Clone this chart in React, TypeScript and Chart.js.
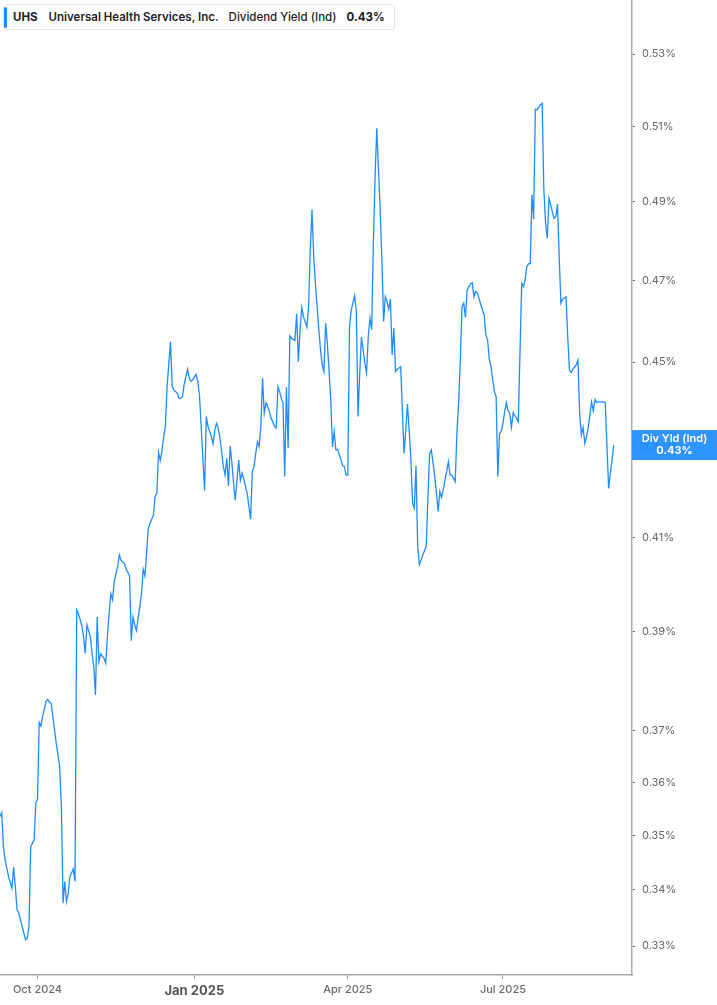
import { useEffect, useRef } from 'react'
import { Chart, registerables } from 'chart.js'

Chart.register(...registerables)

// calendar days counted from the first session shown (Mon 9 Sep 2024)
const START_DATE = '2024-09-09'

const tradeDays = [
  0, 1, 2, 3, 5, 7, 8, 9, 10, 11, 13, 15, 16, 17, 18, 19, 20, 21, 22, 23,
  24, 25, 27, 28, 29, 30, 31, 33, 35, 36, 37, 38, 39, 40, 41, 43, 44, 45, 46, 48,
  49, 50, 51, 53, 54, 55, 56, 57, 58, 59, 61, 62, 63, 64, 65, 66, 67, 69, 70, 71,
  73, 74, 76, 77, 78, 79, 80, 82, 83, 84, 85, 87, 88, 90, 91, 92, 93, 94, 95, 96,
  97, 98, 100, 101, 102, 104, 105, 106, 107, 108, 109, 110, 111, 112, 113, 115, 116, 117, 120, 121,
  122, 124, 125, 126, 127, 128, 129, 130, 131, 132, 133, 134, 135, 136, 137, 138, 139, 140, 141, 142,
  143, 144, 145, 146, 147, 148, 149, 150, 151, 152, 153, 154, 155, 156, 157, 158, 159, 160, 161, 162,
  163, 164, 165, 166, 167, 168, 169, 170, 171, 173, 174, 175, 176, 177, 178, 180, 181, 182, 183, 184,
  185, 186, 187, 188, 189, 190, 191, 192, 193, 194, 195, 196, 197, 198, 199, 200, 201, 202, 203, 204,
  205, 206, 208, 209, 210, 211, 212, 213, 214, 215, 216, 217, 218, 219, 220, 221, 222, 223, 224, 225,
  226, 227, 228, 229, 230, 231, 232, 233, 235, 236, 237, 238, 239, 240, 241, 242, 243, 244, 245, 246,
  247, 248, 250, 251, 252, 253, 254, 255, 256, 257, 258, 259, 260, 261, 262, 263, 264, 265, 266, 267,
  268, 269, 270, 271, 272, 273, 274, 275, 276, 277, 278, 279, 280, 281, 282, 284, 285, 286, 287, 288,
  289, 290, 291, 292, 293, 294, 295, 296, 297, 298, 299, 300, 301, 302, 303, 304, 306, 307, 308, 309,
  310, 311, 312, 313, 314, 315, 316, 317, 318, 319, 320, 321, 322, 323, 324, 325, 326, 327, 328, 329,
  330, 332, 333, 334, 335, 336, 338, 339, 340, 341, 342, 343, 344, 345, 347, 348, 349, 350, 351, 353,
  355, 357, 358, 359, 360,
]

// dividend yield (indicated), in percent
const divYield = [
  0.3535, 0.3542, 0.3479, 0.3455, 0.3424, 0.3403, 0.3441, 0.3406, 0.3364, 0.3359,
  0.3334, 0.3311, 0.3314, 0.3334, 0.3479, 0.3485, 0.3491, 0.3560, 0.3568, 0.3716,
  0.3709, 0.3728, 0.3758, 0.3762, 0.3756, 0.3754, 0.3728, 0.3675, 0.3630, 0.3554,
  0.3376, 0.3415, 0.3379, 0.3394, 0.3424, 0.3438, 0.3415, 0.3945, 0.3937, 0.3912,
  0.3889, 0.3855, 0.3914, 0.3889, 0.3855, 0.3828, 0.3771, 0.3930, 0.3838, 0.3854,
  0.3845, 0.3835, 0.3889, 0.3938, 0.3979, 0.3966, 0.4005, 0.4037, 0.4062, 0.4050,
  0.4043, 0.4031, 0.4017, 0.3881, 0.3930, 0.3914, 0.3902, 0.3952, 0.3979, 0.4031,
  0.4017, 0.4120, 0.4131, 0.4149, 0.4190, 0.4197, 0.4289, 0.4271, 0.4293, 0.4325,
  0.4349, 0.4442, 0.4549, 0.4442, 0.4434, 0.4426, 0.4414, 0.4414, 0.4418, 0.4446,
  0.4465, 0.4483, 0.4462, 0.4454, 0.4458, 0.4471, 0.4454, 0.4422, 0.4203, 0.4372,
  0.4349, 0.4325, 0.4309, 0.4341, 0.4356, 0.4345, 0.4322, 0.4291, 0.4257, 0.4238,
  0.4276, 0.4214, 0.4304, 0.4265, 0.4220, 0.4182, 0.4227, 0.4272, 0.4226, 0.4242,
  0.4229, 0.4212, 0.4197, 0.4168, 0.4140, 0.4246, 0.4257, 0.4287, 0.4314, 0.4302,
  0.4349, 0.4462, 0.4379, 0.4404, 0.4395, 0.4383, 0.4368, 0.4360, 0.4349, 0.4345,
  0.4442, 0.4430, 0.4414, 0.4403, 0.4235, 0.4440, 0.4299, 0.4563, 0.4557, 0.4552,
  0.4617, 0.4501, 0.4578, 0.4633, 0.4610, 0.4584, 0.4635, 0.4776, 0.4879, 0.4759,
  0.4692, 0.4635, 0.4578, 0.4529, 0.4493, 0.4477, 0.4594, 0.4545, 0.4481, 0.4410,
  0.4302, 0.4337, 0.4295, 0.4296, 0.4284, 0.4272, 0.4259, 0.4257, 0.4238, 0.4238,
  0.4586, 0.4626, 0.4661, 0.4622, 0.4372, 0.4474, 0.4560, 0.4529, 0.4497, 0.4474,
  0.4561, 0.4606, 0.4578, 0.4793, 0.4966, 0.5095, 0.4984, 0.4879, 0.4751, 0.4598,
  0.4659, 0.4647, 0.4628, 0.4653, 0.4517, 0.4582, 0.4477, 0.4483, 0.4489, 0.4387,
  0.4287, 0.4341, 0.4401, 0.4341, 0.4272, 0.4175, 0.4164, 0.4259, 0.4080, 0.4041,
  0.4051, 0.4062, 0.4080, 0.4190, 0.4287, 0.4295, 0.4265, 0.4235, 0.4197, 0.4157,
  0.4201, 0.4188, 0.4205, 0.4227, 0.4246, 0.4268, 0.4238, 0.4238, 0.4231, 0.4223,
  0.4333, 0.4403, 0.4505, 0.4635, 0.4643, 0.4608, 0.4676, 0.4684, 0.4691, 0.4694,
  0.4659, 0.4672, 0.4668, 0.4655, 0.4639, 0.4614, 0.4565, 0.4553, 0.4507, 0.4489,
  0.4458, 0.4430, 0.4418, 0.4235, 0.4333, 0.4337, 0.4356, 0.4383, 0.4404, 0.4385,
  0.4379, 0.4347, 0.4381, 0.4373, 0.4368, 0.4360, 0.4692, 0.4684, 0.4701, 0.4734,
  0.4741, 0.4742, 0.4918, 0.4855, 0.5147, 0.5145, 0.5152, 0.5159, 0.5163, 0.4931,
  0.4845, 0.4806, 0.4909, 0.4892, 0.4874, 0.4857, 0.4862, 0.4894, 0.4759, 0.4643,
  0.4653, 0.4659, 0.4561, 0.4481, 0.4475, 0.4483, 0.4493, 0.4505, 0.4379, 0.4329,
  0.4347, 0.4310, 0.4325, 0.4345, 0.4406, 0.4385, 0.4412, 0.4404, 0.4406, 0.4406,
  0.4405, 0.4208, 0.4242, 0.4272, 0.4306,
]

const xTickDates = ['2024-10-01', '2025-01-01', '2025-04-01', '2025-07-01']
const xTickLabels = ['Oct 2024', 'Jan 2025', 'Apr 2025', 'Jul 2025']
const yTickValues = [0.33, 0.34, 0.35, 0.36, 0.37, 0.39, 0.41, 0.43, 0.45, 0.47, 0.49, 0.51, 0.53]

const LINE_COLOR = '#1e8cff'
const TAG_LABEL = 'Div Yld (Ind)'

const dayOffset = (d: string) => Math.round((Date.parse(d) - Date.parse(START_DATE)) / 86400000)
const xTickDays = xTickDates.map(dayOffset)
const yearTickDay = xTickDays[xTickLabels.indexOf('Jan 2025')]
const lastYield = divYield[divYield.length - 1]

// blue tag on the right axis showing the latest value
const lastValueTag = {
  id: 'lastValueTag',
  afterDraw(chart: Chart) {
    const { ctx, chartArea } = chart
    const y = chart.scales.y.getPixelForValue(lastYield)
    const left = chartArea.right
    const w = chart.width - left
    ctx.save()
    ctx.globalAlpha = 0.93
    ctx.fillStyle = LINE_COLOR
    ctx.fillRect(left, y - 15, w, 30)
    ctx.globalAlpha = 1
    ctx.fillStyle = '#ffffff'
    ctx.textAlign = 'center'
    ctx.textBaseline = 'middle'
    ctx.font = '600 11px Inter'
    ctx.fillText(TAG_LABEL, left + w / 2, y - 6)
    ctx.font = '700 11px Inter'
    ctx.fillText(`${lastYield.toFixed(2)}%`, left + w / 2, y + 6)
    ctx.restore()
  },
}

export default function App() {
  const chartRef = useRef<HTMLCanvasElement>(null)
  const chartInstance = useRef<Chart | null>(null)

  useEffect(() => {
    if (!chartRef.current) return
    if (chartInstance.current) {
      chartInstance.current.destroy()
    }
    const ctx = chartRef.current.getContext('2d')
    if (!ctx) return

    chartInstance.current = new Chart(ctx, {
      type: 'line',
      data: {
        datasets: [
          {
            label: 'Dividend Yield (Ind)',
            data: tradeDays.map((d, i) => ({ x: d, y: divYield[i] })),
            borderColor: LINE_COLOR,
            borderWidth: 1.3,
            pointRadius: 0,
            tension: 0,
            fill: false,
          },
        ],
      },
      options: {
        animation: false,
        responsive: true,
        maintainAspectRatio: false,
        layout: { padding: 0 },
        plugins: {
          legend: { display: false },
          tooltip: { enabled: false },
        },
        scales: {
          x: {
            type: 'linear',
            bounds: 'data',
            min: 0,
            max: 370.7,
            afterBuildTicks: (scale: any) => {
              scale.ticks = xTickDays.map((v) => ({ value: v }))
            },
            afterFit: (scale: any) => {
              scale.height = 30
              scale.paddingLeft = 0
              scale.paddingRight = 0
            },
            ticks: {
              autoSkip: false,
              maxRotation: 0,
              padding: 4,
              color: (c: any) => (c.tick && c.tick.value === yearTickDay ? '#555' : '#6b6b6b'),
              font: (c: any) =>
                c.tick && c.tick.value === yearTickDay
                  ? { family: 'Inter', size: 13, weight: 'bold' }
                  : { family: 'Inter', size: 11, weight: '500' },
              callback: (value: any) => {
                const i = xTickDays.indexOf(Number(value))
                return i >= 0 ? xTickLabels[i] : ''
              },
            },
            grid: {
              drawOnChartArea: false,
              drawTicks: true,
              tickLength: 4,
              color: '#9a9a9a',
            },
            border: { display: true, color: '#ababab', width: 1.5 },
          },
          y: {
            type: 'logarithmic',
            position: 'right',
            bounds: 'data',
            min: 0.32496,
            max: 0.54543,
            afterBuildTicks: (scale: any) => {
              scale.ticks = yTickValues.map((v) => ({ value: v }))
            },
            afterFit: (scale: any) => {
              scale.width = 85
              scale.paddingTop = 0
              scale.paddingBottom = 0
            },
            ticks: {
              padding: 7,
              color: '#666',
              font: { family: 'Inter', size: 11 },
              callback: (value: any) => `${Number(value).toFixed(2)}%`,
            },
            grid: {
              drawOnChartArea: false,
              drawTicks: true,
              tickLength: 3,
              color: '#666',
            },
            border: { display: true, color: '#ababab', width: 1.5 },
          },
        },
      },
      plugins: [lastValueTag],
    })

    return () => {
      if (chartInstance.current) {
        chartInstance.current.destroy()
        chartInstance.current = null
      }
    }
  }, [])

  return (
    <div style={{ position: 'fixed', left: 0, top: 0, width: 717, height: 1005, background: '#fff' }}>
      <canvas ref={chartRef} />
      <div
        style={{
          position: 'absolute',
          left: 3,
          top: 4,
          width: 392,
          height: 26,
          boxSizing: 'border-box',
          border: '1px solid #e6e6e6',
          borderRadius: 3,
          background: '#fff',
          display: 'flex',
          alignItems: 'center',
          paddingLeft: 9,
          fontFamily: 'Inter, sans-serif',
          fontSize: 11.5,
          color: '#1c1c28',
          whiteSpace: 'nowrap',
        }}
      >
        <div
          style={{
            position: 'absolute',
            left: 0,
            top: 2,
            width: 3,
            height: 21,
            borderRadius: 2,
            background: LINE_COLOR,
          }}
        />
        <span style={{ fontWeight: 700 }}>UHS</span>
        <span style={{ fontWeight: 600, marginLeft: 11 }}>Universal Health Services, Inc.</span>
        <span style={{ fontWeight: 500, marginLeft: 10 }}>Dividend Yield (Ind)</span>
        <span style={{ fontWeight: 700, marginLeft: 10 }}>0.43%</span>
      </div>
    </div>
  )
}
